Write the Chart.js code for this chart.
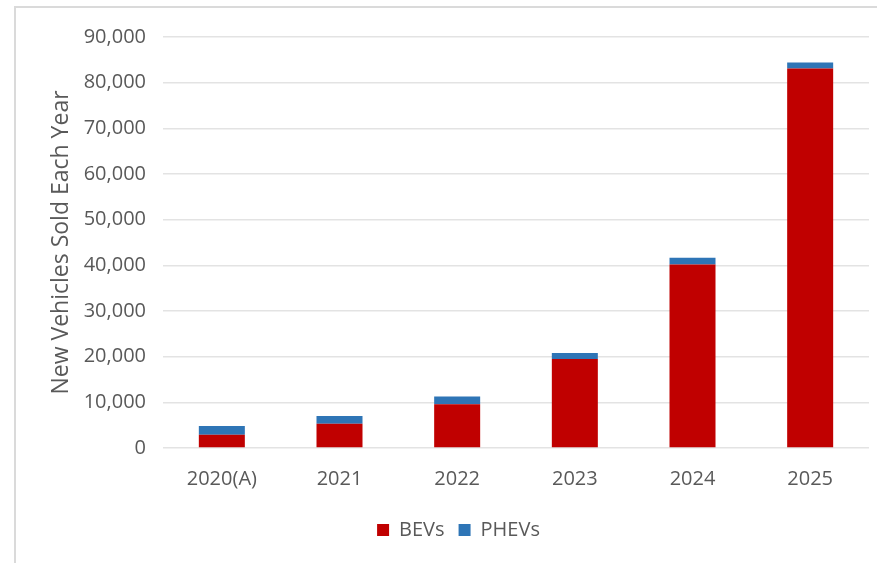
<!DOCTYPE html>
<html>
<head>
<meta charset="utf-8">
<script src="https://cdn.jsdelivr.net/npm/chart.js@4"></script>
<style>
  html, body { margin: 0; padding: 0; background: #ffffff; }
  #wrap { position: relative; width: 877px; height: 563px; overflow: hidden; }
  #frame { position: absolute; left: 14px; top: 6px; width: 900px; height: 600px; border: 2px solid #dadada; box-sizing: border-box; }
  canvas { position: absolute; left: 0; top: 0; }
</style>
</head>
<body>
<div id="wrap">
  <div id="frame"></div>
  <canvas id="c" width="877" height="563"></canvas>
</div>
<script>
const categories = ['2020(A)', '2021', '2022', '2023', '2024', '2025'];
const bevs = [2900, 5300, 9600, 19500, 40200, 83100];
const phevs = [1900, 1700, 1700, 1300, 1450, 1300];
const yTicks = [0, 10000, 20000, 30000, 40000, 50000, 60000, 70000, 80000, 90000];
const seriesNames = ['BEVs', 'PHEVs'];
const yTitle = 'New Vehicles Sold Each Year';

const FONT = "'Open Sans', sans-serif";
const TXT = '#595959';

new Chart(document.getElementById('c'), {
  type: 'bar',
  data: {
    labels: categories,
    datasets: [
      { label: seriesNames[0], data: bevs, backgroundColor: '#C00000', borderWidth: 0 },
      { label: seriesNames[1], data: phevs, backgroundColor: '#2E75B6', borderWidth: 0 }
    ]
  },
  options: {
    responsive: false,
    animation: false,
    devicePixelRatio: 1,
    datasets: { bar: { categoryPercentage: 1, barPercentage: 0.391 } },
    layout: { padding: { left: 48, right: 8, top: 37, bottom: 13 } },
    plugins: {
      legend: {
        position: 'bottom',
        labels: {
          boxWidth: 12, boxHeight: 12, padding: 14,
          color: TXT, font: { family: FONT, size: 20 }
        }
      },
      tooltip: { enabled: false }
    },
    scales: {
      x: {
        stacked: true,
        grid: { display: false, drawTicks: false },
        border: { display: false },
        ticks: { color: TXT, font: { family: FONT, size: 20 }, padding: 19, maxRotation: 0 },
        afterFit: (s) => { s.height = 58; }
      },
      y: {
        stacked: true,
        min: 0, max: 90000,
        afterBuildTicks: (s) => { s.ticks = yTicks.map(v => ({ value: v })); },
        grid: { color: '#e3e3e3', lineWidth: 1.5, drawTicks: false },
        border: { display: false },
        ticks: {
          color: TXT, font: { family: FONT, size: 20 }, padding: 17,
          callback: (v) => v.toLocaleString('en-US')
        },
        title: {
          display: true, text: yTitle, color: TXT,
          font: { family: FONT, size: 23 }, padding: { top: 0, bottom: 0 }
        },
        afterFit: (s) => { s.width = 115; }
      }
    }
  }
});
</script>
</body>
</html>
